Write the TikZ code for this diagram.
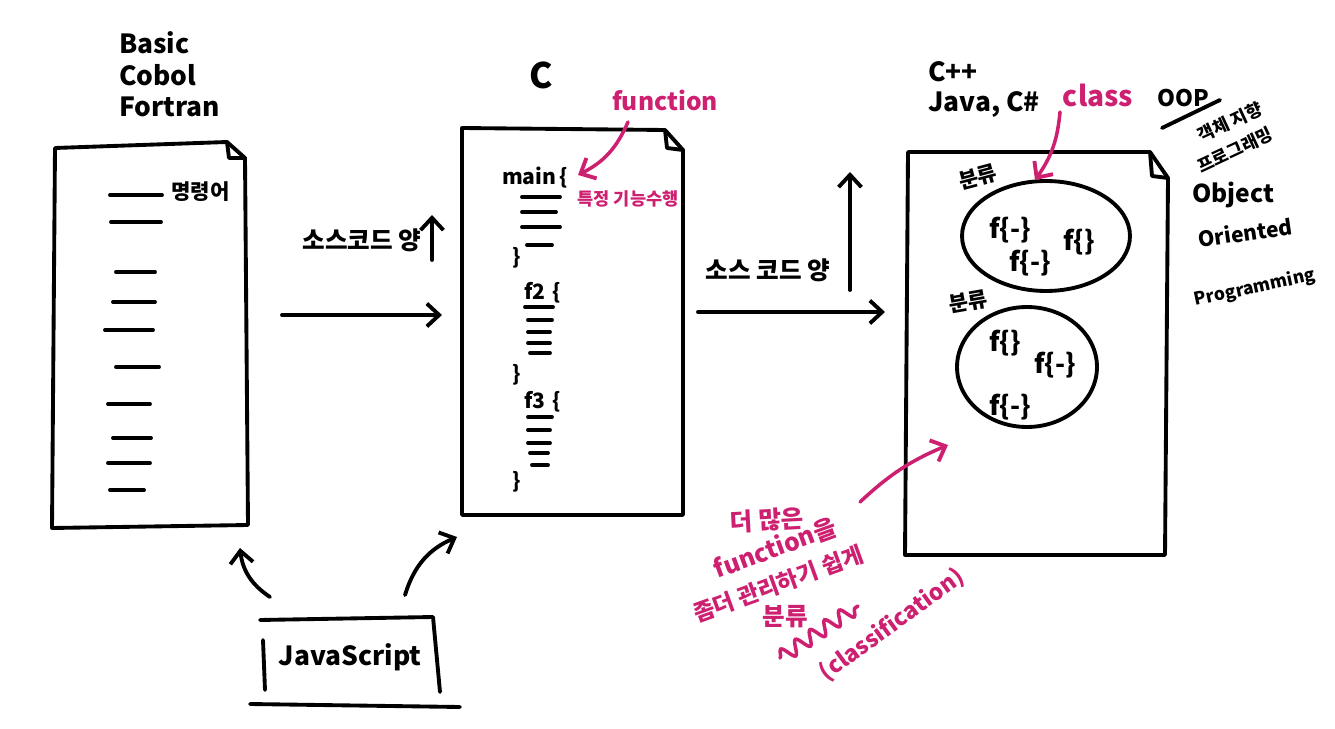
\documentclass[tikz,border=0pt]{standalone}
\usepackage{fontspec}
\setmainfont{Noto Sans CJK KR}
\usetikzlibrary{arrows.meta,shapes.geometric,decorations.pathmorphing}

\definecolor{pen}{RGB}{206,32,112}

\begin{document}
\begin{tikzpicture}[x=0.02cm,y=-0.02cm,
    ink/.style={line width=2.2pt,line cap=round,line join=round},
    pinkline/.style={line width=2pt,line cap=round,draw=pen},
    arr/.style={-{Straight Barb[length=7pt,width=13pt,line width=2.2pt]}},
    lbl/.style={font=\fontsize{15}{18}\selectfont\bfseries},
    code/.style={font=\fontsize{12}{14}\selectfont\bfseries},
    note/.style={text=pen,inner sep=0pt,font=\fontsize{14}{16}\selectfont\bfseries}]
    \useasboundingbox (0,0) rectangle (1335,729);

    % sheets
    \draw[ink] (55,148) -- (227,142) -- (245,158) -- (248,525) -- (52,528) -- cycle;
    \draw[ink] (227,142) -- (229,158) -- (245,158);
    \draw[ink] (462,128) -- (665,130) -- (683,150) -- (683,515) -- (462,515) -- cycle;
    \draw[ink] (665,130) -- (667,148) -- (683,150);
    \draw[ink] (908,152) -- (1150,152) -- (1168,178) -- (1165,555) -- (905,555) -- cycle;
    \draw[ink] (1150,152) -- (1152,176) -- (1168,178);

    % first sheet
    \node[lbl,anchor=west] (basic) at (113,43) {Basic};
    \node[lbl,anchor=west] (cobol) at (113,75) {Cobol};
    \node[lbl,anchor=west] (fortran) at (113,107) {Fortran};
    \foreach \y/\a/\b in {195/110/162, 222/111/161, 272/116/155, 302/113/155, 330/105/153,
                          367/116/159, 404/108/150, 438/113/151, 463/108/150, 490/110/144}
        \draw[ink] (\a,\y) -- (\b,\y);
    \node[code,anchor=west] (cmd) at (165,192) {명령어};

    % second sheet
    \node[lbl,font=\fontsize{20}{22}\selectfont\bfseries] (clang) at (541,75) {C};
    \node[code,anchor=west] (main) at (496,178) {main\,\{};
    \node[code,anchor=west] (ftwo) at (518,293) {f2\,\,\{};
    \node[code,anchor=west] (fthree) at (518,402) {f3\,\,\{};
    \foreach \y/\a/\b in {197/522/560, 212/522/556, 227/522/560, 245/527/552,
                          307/525/553, 320/528/552, 332/528/550, 343/528/550, 353/530/550,
                          417/528/552, 430/528/550, 443/528/550, 453/530/548, 465/532/548}
        \draw[ink] (\a,\y) -- (\b,\y);
    \foreach \y in {258,375,482}
        \node[code] at (517,\y) {\}};
    \node[note] (fn) at (665,100) {function};
    \node[note,font=\fontsize{10}{12}\selectfont\bfseries] (feature) at (628,199) {특정 기능수행};

    % third sheet
    \node[lbl,anchor=west] (cpp) at (922,72) {C++};
    \node[lbl,anchor=west] (java) at (922,105) {Java, C\#};
    \node[note,font=\fontsize{16}{18}\selectfont\bfseries] (cls) at (1098,95) {class};
    \node[draw,ellipse,ink,minimum width=3.36cm,minimum height=2.2cm] (grpone) at (1046,236) {};
    \node[draw,ellipse,ink,minimum width=2.8cm,minimum height=2.4cm] (grptwo) at (1027,367) {};
    \node[code,rotate=15] (catone) at (978,177) {분류};
    \node[code,rotate=10] (cattwo) at (968,302) {분류};
    \node[lbl] (fa) at (1010,230) {f\{-\}};
    \node[lbl] (fb) at (1079,242) {f\{\}};
    \node[lbl] (fc) at (1030,263) {f\{-\}};
    \node[lbl] (fd) at (1005,343) {f\{\}};
    \node[lbl] (fe) at (1055,365) {f\{-\}};
    \node[lbl] (ff) at (1010,407) {f\{-\}};

    % OOP
    \node[lbl,font=\fontsize{13}{15}\selectfont\bfseries] (oop) at (1183,98) {OOP};
    \draw[ink] (1162,128) -- (1220,100);
    \node[code,font=\fontsize{10}{12}\selectfont\bfseries,rotate=25] (objkr) at (1230,122) {객체 지향};
    \node[code,font=\fontsize{10}{12}\selectfont\bfseries,rotate=25] (progkr) at (1235,150) {프로그래밍};
    \node[lbl,font=\fontsize{14}{16}\selectfont\bfseries,anchor=west] (obj) at (1186,195) {Object};
    \node[lbl,font=\fontsize{12}{14}\selectfont\bfseries,anchor=west,rotate=8] (ori) at (1192,240) {Oriented};
    \node[lbl,font=\fontsize{10}{12}\selectfont\bfseries,rotate=12] (prog) at (1255,288) {Programming};

    % between the sheets
    \node[lbl,font=\fontsize{14}{16}\selectfont\bfseries] (moreone) at (362,240) {소스코드 양};
    \node[lbl,font=\fontsize{14}{16}\selectfont\bfseries] (moretwo) at (768,270) {소스 코드 양};
    \coordinate (upa) at (432,260);
    \coordinate (upb) at (432,215);
    \draw[ink,arr] (upa) -- (upb);
    \coordinate (upc) at (850,290);
    \coordinate (upd) at (850,172);
    \draw[ink,arr] (upc) -- (upd);
    \coordinate (outone) at (282,315);
    \coordinate (inone) at (442,315);
    \draw[ink,arr] (outone) -- (inone);
    \coordinate (outtwo) at (698,312);
    \coordinate (intwo) at (885,312);
    \draw[ink,arr] (outtwo) -- (intwo);

    % JavaScript
    \node[lbl] (js) at (350,657) {JavaScript};
    \draw[ink] (260,620) -- (433,617) -- (440,692);
    \draw[ink] (263,640) -- (265,690);
    \draw[ink] (250,704) -- (460,707);
    \coordinate (jsl) at (270,597);
    \coordinate (basicbot) at (240,548);
    \draw[ink,arr] (jsl) to[bend left=25] (basicbot);
    \coordinate (jsr) at (405,595);
    \coordinate (cbot) at (457,537);
    \draw[ink,arr] (jsr) to[bend left=25] (cbot);

    % pink notes
    \coordinate (fntail) at (628,122);
    \coordinate (mainhead) at (578,175);
    \draw[pinkline,arr] (fntail) to[bend left=20] (mainhead);
    \coordinate (clstail) at (1060,112);
    \coordinate (grphead) at (1035,180);
    \draw[pinkline,arr] (clstail) to[bend left=15] (grphead);
    \node[note,rotate=3] (nmore) at (767,520) {더 많은};
    \node[note,rotate=20] (nfunc) at (775,548) {function을};
    \node[note,font=\fontsize{13}{15}\selectfont\bfseries,rotate=20] (nmanage) at (778,584) {좀더 관리하기 쉽게};
    \node[note] (ncat) at (785,617) {분류};
    \node[note,font=\fontsize{13}{15}\selectfont\bfseries,rotate=36] (nclass) at (892,625) {(classification)};
    \draw[pinkline,decorate,decoration={snake,amplitude=4pt,segment length=10pt}] (780,658) -- (858,606);
    \coordinate (ntail) at (860,502);
    \coordinate (nhead) at (948,445);
    \draw[pinkline,arr] (ntail) to[bend left=10] (nhead);
\end{tikzpicture}
\end{document}
